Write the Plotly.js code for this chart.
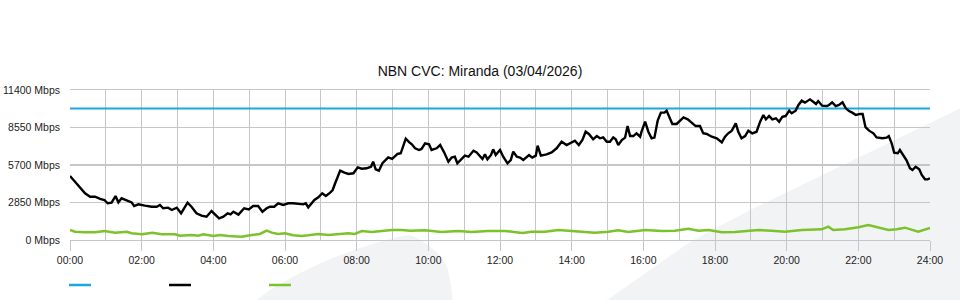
<!DOCTYPE html>
<html>
<head>
<meta charset="utf-8">
<script src="https://cdn.plot.ly/plotly-3.0.1.min.js"></script>
<style>html,body{margin:0;padding:0;background:#fff;}#chart{width:960px;height:300px;}</style>
</head>
<body>
<div id="chart"></div>
<script>
// ---- data ----
const chartTitle = "NBN CVC: Miranda (03/04/2026)";
const tickHours = [0, 2, 4, 6, 8, 10, 12, 14, 16, 18, 20, 22, 24];
const tickLabels = ["00:00","02:00","04:00","06:00","08:00","10:00","12:00","14:00","16:00","18:00","20:00","22:00","24:00"];
const yTicks = [0, 2850, 5700, 8550, 11400];

const capacityHours = [0, 24];
const capacityMbps = [10000, 10000];

const trafficHours = [0.00,0.14,0.28,0.42,0.56,0.70,0.84,0.96,1.05,1.16,
1.27,1.35,1.44,1.58,1.72,1.79,1.91,2.09,2.28,2.42,
2.51,2.60,2.74,2.84,2.98,3.10,3.19,3.28,3.39,3.53,
3.67,3.81,3.95,4.05,4.16,4.28,4.40,4.48,4.56,4.70,
4.86,4.99,5.11,5.25,5.37,5.49,5.58,5.70,5.81,5.95,
6.09,6.23,6.37,6.51,6.58,6.65,6.82,6.93,7.04,7.14,
7.26,7.33,7.40,7.54,7.66,7.77,7.91,8.03,8.14,8.28,
8.40,8.46,8.53,8.62,8.72,8.88,8.99,9.14,9.23,9.37,
9.47,9.54,9.63,9.74,9.81,9.91,10.02,10.09,10.23,10.33,
10.44,10.56,10.65,10.74,10.81,10.93,11.02,11.12,11.26,11.35,
11.44,11.51,11.58,11.65,11.75,11.81,11.88,12.00,12.09,12.21,
12.30,12.37,12.47,12.56,12.65,12.74,12.81,12.90,13.00,13.05,
13.14,13.30,13.44,13.58,13.72,13.86,14.00,14.09,14.20,14.30,
14.39,14.48,14.60,14.70,14.79,14.88,14.98,15.07,15.16,15.23,
15.30,15.40,15.49,15.56,15.63,15.72,15.81,15.91,15.95,16.05,
16.14,16.23,16.31,16.40,16.49,16.59,16.65,16.72,16.81,16.93,
17.02,17.12,17.24,17.35,17.46,17.58,17.67,17.77,17.91,18.05,
18.19,18.28,18.37,18.47,18.58,18.65,18.74,18.84,18.93,19.04,
19.16,19.26,19.35,19.42,19.51,19.60,19.70,19.79,19.88,19.97,
20.07,20.14,20.25,20.33,20.42,20.51,20.65,20.74,20.82,20.88,
20.99,21.12,21.18,21.27,21.37,21.46,21.56,21.65,21.74,21.83,
21.93,22.05,22.12,22.20,22.30,22.42,22.51,22.67,22.79,22.85,
22.93,23.00,23.10,23.16,23.25,23.35,23.44,23.51,23.60,23.70,
23.77,23.86,23.93,24.00];
const trafficMbps = [4860,4430,3980,3550,3290,3290,3120,3040,2790,2840,
3340,2860,3170,3040,2860,2580,2710,2610,2530,2530,
2660,2410,2460,2280,2460,2030,2460,2840,2530,2030,
1850,1770,2200,1950,1650,1770,2030,1950,2150,1930,
2410,2330,2580,2580,2150,2410,2530,2530,2790,2660,
2790,2790,2740,2710,2790,2480,3040,3240,3550,3340,
3600,3800,4310,5270,5120,5020,5070,5520,5420,5450,
5570,5950,5370,5270,5830,6280,6160,6540,6590,7700,
7420,7270,6970,6840,6920,7350,7270,6840,6970,7220,
6660,5950,6260,6330,5830,6160,6410,6330,6790,6660,
6330,6160,6510,6130,6460,6890,6460,6840,6330,5830,
6080,6710,6330,6260,6080,6260,6460,6260,6410,7170,
6410,6510,6660,6970,7470,7220,7420,7550,7220,7600,
8230,8060,7650,7900,7730,7800,7470,7470,7800,7650,
7220,7600,7780,8660,7900,7900,8110,7850,8230,8990,
8230,7730,7780,9070,9680,9680,9830,9420,8820,8820,
9070,9320,9170,8920,8660,8660,8110,8060,7850,7730,
7420,7850,8110,8310,8870,8230,7730,7900,8310,8110,
8230,8990,9500,9170,9420,9170,9250,8990,9370,9420,
9830,9630,9830,10260,10590,10440,10690,10510,10340,10560,
10210,10180,10260,10460,10180,10260,10460,10010,9800,9680,
9500,9580,9580,8570,8310,8110,7800,7730,7780,7900,
7350,6640,6590,6840,6460,6030,5450,5320,5570,5370,
4940,4610,4610,4690];

const uploadHours = [0.00,0.14,0.42,0.70,0.96,1.26,1.58,1.72,2.00,
2.30,2.56,2.93,3.07,3.40,3.58,3.72,4.00,
4.19,4.42,4.60,4.79,5.07,5.30,5.49,5.63,5.81,6.00,
6.23,6.47,6.65,6.93,7.21,7.49,7.77,7.95,8.14,8.42,
8.70,8.98,9.26,9.49,9.91,10.37,10.84,11.21,11.67,12.14,
12.62,12.88,13.26,13.63,14.00,14.65,15.02,15.30,15.58,16.05,
16.51,16.88,17.26,17.54,17.82,18.19,18.56,18.84,19.21,19.58,
19.95,20.42,20.98,21.16,21.30,21.63,22.00,22.28,22.56,22.84,
23.07,23.30,23.67,24.00];
const uploadMbps = [760,630,590,585,680,555,630,510,430,
555,430,430,330,380,330,430,300,
380,300,300,250,380,460,710,560,460,510,
355,300,355,460,380,460,510,460,680,610,
710,760,760,710,735,608,684,608,684,684,
532,633,633,760,684,557,631,735,608,760,
684,710,862,710,760,582,608,684,760,710,
633,760,811,1013,760,811,963,1140,963,760,
811,937,633,912];

// ---- styling / layout ----
const PL = 70, PR = 930, PT = 90, PB = 240;
function px(x) { return (x - PL) / (PR - PL); }
function py(y) { return (PB - y) / (PB - PT); }
function poly(points) {
  return points.map(function (p, i) {
    return (i === 0 ? 'M' : 'L') + px(p[0]).toFixed(4) + ',' + py(p[1]).toFixed(4);
  }).join('') + 'Z';
}
const swooshColor = '#f2f3f5';
const gridColor = '#c6c6c6';

const shapes = [
  {type:'path', xref:'paper', yref:'paper', layer:'below', line:{width:0}, fillcolor:swooshColor,
   path: poly([[250,305],[270,290],[300,273],[330,259],[360,248],[385,240],[398,237],[410,235],[421,240],[437,252],[447,266],[451,285],[453,305]])},
  {type:'path', xref:'paper', yref:'paper', layer:'below', line:{width:0}, fillcolor:swooshColor,
   path: poly([[600,305],[690,242],[750,210],[965,106],[965,305]])},
  {type:'line', xref:'paper', yref:'paper', x0:px(69), x1:px(91), y0:py(285), y1:py(285), line:{color:'#19a7e0', width:2.5}},
  {type:'line', xref:'paper', yref:'paper', x0:px(169), x1:px(191), y0:py(285), y1:py(285), line:{color:'#000000', width:2.5}},
  {type:'line', xref:'paper', yref:'paper', x0:px(269), x1:px(291), y0:py(285), y1:py(285), line:{color:'#7dc12b', width:2.5}}
];

const traces = [
  {x: capacityHours, y: capacityMbps, type:'scatter', mode:'lines', line:{color:'#19a7e0', width:2}, hoverinfo:'skip'},
  {x: uploadHours, y: uploadMbps, type:'scatter', mode:'lines', line:{color:'#7dc12b', width:2.5}, hoverinfo:'skip'},
  {x: trafficHours, y: trafficMbps, type:'scatter', mode:'lines', line:{color:'#000000', width:2.4}, hoverinfo:'skip'}
];

const layout = {
  width: 960, height: 300,
  margin: {l: PL, r: 960 - PR, t: PT, b: 300 - PB},
  paper_bgcolor: '#ffffff',
  plot_bgcolor: 'rgba(0,0,0,0)',
  showlegend: false,
  hovermode: false,
  font: {family: '"Liberation Sans", Arial, sans-serif', size: 10.5, color: '#222'},
  title: {text: chartTitle, x: 0.5, xanchor: 'center', y: 1 - 71/300, yanchor: 'middle',
          font: {family: '"Liberation Sans", Arial, sans-serif', size: 14, color: '#111'}},
  xaxis: {
    range: [0, 24], tickmode: 'array', tickvals: tickHours, ticktext: tickLabels,
    showgrid: true, gridcolor: gridColor, gridwidth: 1,
    ticks: 'outside', ticklen: 10, tickcolor: gridColor, tickwidth: 1,
    showline: true, linecolor: gridColor, linewidth: 1, mirror: true,
    zeroline: false, fixedrange: true,
    minor: {tickmode: 'linear', tick0: 0, dtick: 1, showgrid: true, gridcolor: gridColor, gridwidth: 1}
  },
  yaxis: {
    range: [0, 11400], tickmode: 'array', tickvals: yTicks,
    ticktext: yTicks.map(function (v) { return v + ' Mbps'; }),
    showgrid: true, gridcolor: gridColor, gridwidth: 1.5,
    ticks: '', ticklabelstandoff: 9,
    showline: false, zeroline: false, fixedrange: true
  },
  shapes: shapes
};

Plotly.newPlot('chart', traces, layout, {staticPlot: true, displayModeBar: false});
</script>
</body>
</html>
